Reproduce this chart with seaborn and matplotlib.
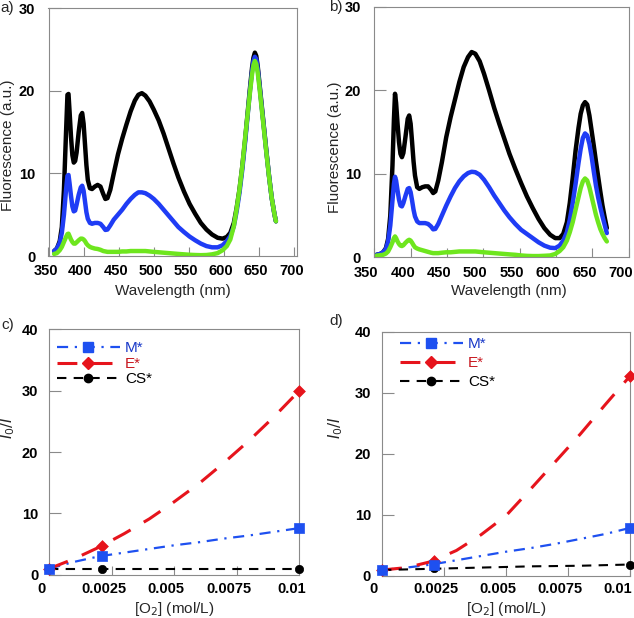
import numpy as np
import pandas as pd
import matplotlib
matplotlib.use("Agg")
import matplotlib.pyplot as plt
import seaborn as sns
from matplotlib.lines import Line2D
from matplotlib.transforms import ScaledTranslation

# ---------------- data: panel a ----------------
wl_a = [358, 362, 366, 369, 372, 375, 377, 378.5, 380, 382, 384, 386, 388, 390, 393, 396, 398, 400,
        402, 404, 406, 409, 412, 416, 420, 424, 428, 431, 434, 438, 443, 449, 455, 461, 467, 473,
        478, 483, 488, 494, 500, 507, 514, 521, 528, 535, 543, 551, 559, 567, 575, 583, 591, 598,
        604, 609, 614, 618, 622, 626, 630, 634, 637, 640, 642, 644, 646, 648, 651, 654, 657, 660,
        664, 668, 672, 674]
black_a = [0.6, 0.9, 1.8, 3.5, 8.0, 15.0, 19.5, 19.6, 17.5, 14.5, 12.2, 11.3, 11.5, 12.5, 15.0, 17.0, 17.3, 16.0,
           13.5, 11.0, 9.2, 8.2, 8.1, 8.4, 8.6, 8.4, 7.5, 6.9, 7.0, 8.0, 10.0, 12.3, 14.2, 15.9, 17.5, 18.8,
           19.5, 19.7, 19.4, 18.7, 17.7, 16.4, 14.8, 13.0, 11.2, 9.5, 7.8, 6.3, 5.1, 4.0, 3.2, 2.6, 2.2, 2.1,
           2.3, 2.8, 4.0, 5.8, 8.0, 10.8, 14.0, 17.6, 20.3, 22.8, 24.0, 24.6, 24.2, 23.0, 20.5, 18.0, 15.5, 13.0,
           9.8, 7.0, 5.0, 4.2]
blue_a = [0.6, 0.9, 1.6, 2.8, 5.0, 8.0, 9.7, 9.8, 8.8, 7.3, 6.0, 5.4, 5.5, 6.2, 7.4, 8.3, 8.5, 7.9,
          6.6, 5.3, 4.5, 4.0, 3.9, 4.0, 4.0, 3.9, 3.5, 3.15, 3.2, 3.7, 4.4, 5.0, 5.6, 6.3, 6.9, 7.4,
          7.7, 7.7, 7.6, 7.3, 6.9, 6.3, 5.6, 4.9, 4.2, 3.5, 2.9, 2.35, 1.9, 1.5, 1.2, 1.05, 1.05, 1.3,
          1.8, 2.4, 3.6, 5.4, 7.6, 10.4, 13.7, 17.3, 20.0, 22.4, 23.6, 24.1, 23.8, 22.7, 20.3, 17.8, 15.4, 12.9,
          9.8, 7.0, 5.0, 4.2]
green_a = [0.25, 0.35, 0.7, 1.1, 1.7, 2.3, 2.65, 2.7, 2.4, 2.0, 1.7, 1.5, 1.5, 1.65, 1.9, 2.1, 2.1, 2.0,
           1.8, 1.5, 1.3, 1.1, 1.0, 0.9, 0.85, 0.75, 0.6, 0.55, 0.5, 0.5, 0.5, 0.5, 0.55, 0.55, 0.6, 0.6,
           0.6, 0.6, 0.6, 0.55, 0.5, 0.45, 0.4, 0.35, 0.3, 0.25, 0.2, 0.15, 0.12, 0.1, 0.12, 0.2, 0.35, 0.7,
           1.2, 2.0, 3.6, 5.7, 8.0, 10.8, 14.2, 17.4, 19.8, 22.0, 23.1, 23.6, 23.2, 22.2, 20.0, 17.6, 15.2, 12.8,
           9.7, 7.0, 5.0, 4.2]

# ---------------- data: panel b ----------------
wl_b = [353, 358, 362, 366, 369, 372, 375, 377, 378.5, 380, 382, 384, 386, 388, 390, 393, 396, 398,
        400, 402, 404, 406, 409, 412, 416, 420, 424, 428, 431, 434, 438, 443, 449, 455, 461, 467,
        473, 479, 484, 489, 495, 501, 508, 515, 522, 529, 536, 544, 552, 560, 568, 576, 584, 592,
        599, 605, 610, 615, 619, 623, 627, 631, 634, 637, 640, 643, 646, 649, 652, 655, 658, 661,
        664, 667, 670]
black_b = [0.3, 0.4, 0.6, 1.1, 2.2, 5.0, 11.0, 16.5, 19.6, 18.5, 16.0, 13.8, 12.4, 12.0, 12.5, 14.5, 16.6, 17.0,
           16.0, 13.8, 11.5, 9.8, 8.4, 8.2, 8.4, 8.5, 8.5, 8.1, 7.7, 7.9, 9.2, 11.4, 14.4, 16.8, 18.9, 21.0,
           22.8, 24.0, 24.6, 24.4, 23.5, 22.0, 20.0, 17.9, 16.0, 14.2, 12.4, 10.6, 8.9, 7.3, 5.9, 4.6, 3.5, 2.7,
           2.3, 2.3, 2.8, 4.2, 6.5, 9.5, 12.8, 15.5, 17.2, 18.2, 18.6, 18.3, 17.0, 15.2, 13.4, 11.5, 9.7, 7.9,
           6.2, 4.8, 3.5]
blue_b = [0.3, 0.4, 0.6, 1.0, 1.9, 3.8, 6.8, 8.8, 9.65, 9.2, 8.0, 6.9, 6.2, 6.1, 6.5, 7.4, 8.2, 8.3,
          7.8, 6.8, 5.7, 4.9, 4.3, 4.1, 4.1, 4.1, 4.0, 3.7, 3.35, 3.4, 4.0, 5.0, 6.2, 7.3, 8.3, 9.1,
          9.7, 10.1, 10.25, 10.2, 9.9, 9.3, 8.4, 7.4, 6.5, 5.6, 4.8, 4.0, 3.3, 2.8, 2.3, 1.8, 1.4, 1.15,
          1.1, 1.4, 2.0, 3.0, 4.5, 6.5, 8.8, 11.3, 13.0, 14.3, 14.85, 14.6, 13.6, 12.1, 10.3, 8.6, 7.2, 6.0,
          4.9, 3.9, 2.9]
green_b = [0.2, 0.25, 0.3, 0.45, 0.7, 1.2, 1.8, 2.3, 2.5, 2.3, 1.9, 1.6, 1.4, 1.35, 1.45, 1.75, 2.0, 2.1,
           2.0, 1.75, 1.45, 1.2, 1.05, 0.95, 0.85, 0.75, 0.65, 0.55, 0.5, 0.5, 0.5, 0.55, 0.6, 0.6, 0.65, 0.7,
           0.7, 0.7, 0.7, 0.7, 0.65, 0.6, 0.55, 0.5, 0.45, 0.4, 0.35, 0.3, 0.22, 0.17, 0.15, 0.15, 0.18, 0.22,
           0.4, 0.75, 1.2, 2.0, 3.0, 4.2, 5.7, 7.2, 8.3, 9.1, 9.45, 9.2, 8.4, 7.3, 6.2, 5.1, 4.2, 3.4,
           2.8, 2.3, 1.9]

# ---------------- data: panels c, d (Stern-Volmer) ----------------
o2_pts = [0.0, 0.0021, 0.01]
M_c = [1.0, 3.1, 7.6]
E_c = [1.0, 4.7, 30.0]
CS_c = [1.0, 1.0, 1.0]
M_d = [0.9, 1.8, 7.8]
E_d = [0.9, 2.4, 32.7]
CS_d = [0.9, 1.2, 1.8]

# fitted curves
o2_fit = [0.0, 0.001, 0.002, 0.003, 0.004, 0.005, 0.006, 0.007, 0.008, 0.009, 0.01]
E_c_fit = [1.0, 2.6, 4.5, 6.7, 9.1, 11.9, 14.9, 18.3, 21.9, 25.8, 30.0]
M_c_fit = [1.0, 2.1, 3.0, 3.6, 4.2, 4.8, 5.3, 5.9, 6.4, 7.0, 7.6]
CS_c_fit = [1.0, 1.0, 1.0, 1.0, 1.0, 1.0, 1.0, 1.0, 1.0, 1.0, 1.0]
E_d_fit = [0.9, 1.3, 2.3, 4.1, 6.7, 9.8, 14.2, 18.7, 23.2, 28.0, 32.7]
M_d_fit = [0.9, 1.3, 1.8, 2.5, 3.2, 3.9, 4.5, 5.2, 6.0, 6.8, 7.8]
CS_d_fit = [0.9, 1.0, 1.1, 1.2, 1.3, 1.4, 1.5, 1.55, 1.6, 1.7, 1.8]

series_names = ["M*", "E*", "CS*"]
wl_ticks = [350, 400, 450, 500, 550, 600, 650, 700]
fl_ticks = [0, 10, 20, 30]
o2_ticks = [0, 0.0025, 0.005, 0.0075, 0.01]
o2_ticklabels = ["0", "0.0025", "0.005", "0.0075", "0.01"]
sv_ticks = [0, 10, 20, 30, 40]

# ---------------- style ----------------
sns.set_theme(style="white")
plt.rcParams["font.family"] = ["Liberation Sans", "DejaVu Sans"]

C_BLACK = "#000000"
C_BLUE = "#1f3cf5"
C_GREEN = "#6ee61e"
C_RED = "#e6141c"
C_MBLUE = "#1e50f0"
SPINE = "#8a8a8a"

W, H = 634, 618
fig = plt.figure(figsize=(W / 100, H / 100), dpi=100)


def rect(l, r, t, b):
    return [l / W, 1 - b / H, (r - l) / W, (b - t) / H]


axA = fig.add_axes(rect(48.5, 297, 8, 256))
axB = fig.add_axes(rect(374.3, 629, 7, 257.3))
axC = fig.add_axes(rect(49.3, 299.3, 329.4, 574.7))
axD = fig.add_axes(rect(382, 630, 331.5, 575.5))


def style(ax, xshift, xpad, ypad, last_extra=0):
    for s in ax.spines.values():
        s.set_color(SPINE)
        s.set_linewidth(0.8)
        s.set_visible(True)
    ax.tick_params(axis="both", direction="in", color=SPINE, width=0.8,
                   top=False, right=False, bottom=True, left=True,
                   labelsize=10.5, labelcolor="black")
    ax.tick_params(axis="x", length=6.5, pad=xpad)
    ax.tick_params(axis="y", length=8.5, pad=ypad)
    for lab in ax.get_xticklabels() + ax.get_yticklabels():
        lab.set_fontweight("bold")
    labs = ax.get_xticklabels()
    for i, lab in enumerate(labs):
        dx = xshift + (last_extra if i == len(labs) - 1 else 0)
        off = ScaledTranslation(dx / 100, 0, fig.dpi_scale_trans)
        lab.set_transform(lab.get_transform() + off)
    ax.grid(False)
    ax.set_facecolor("white")


# ---------------- spectra ----------------
def spectra(ax, wl, curves, xlim, xshift, ylabx, ylaby, xlabx, xlaby):
    for vals, col in curves:
        df = pd.DataFrame({"wl": wl, "fl": vals})
        sns.lineplot(data=df, x="wl", y="fl", ax=ax, color=col, lw=3.2,
                     errorbar=None, solid_capstyle="round", solid_joinstyle="round")
    ax.set_xlim(*xlim)
    ax.set_ylim(0, 30)
    ax.set_xticks(wl_ticks)
    ax.set_yticks(fl_ticks)
    ax.set_xlabel("Wavelength (nm)", fontsize=11, va="center")
    ax.set_ylabel("Fluorescence (a.u.)", fontsize=11, va="center", ha="center")
    ax.xaxis.set_label_coords(xlabx, xlaby)
    ax.yaxis.set_label_coords(ylabx, ylaby)
    style(ax, xshift, 6.0, 9.5)


spectra(axA, wl_a, [(black_a, C_BLACK), (blue_a, C_BLUE), (green_a, C_GREEN)],
        (350, 704), -3, -0.163, 0.448, 0.5, -0.141)
spectra(axB, wl_b, [(black_b, C_BLACK), (blue_b, C_BLUE), (green_b, C_GREEN)],
        (350, 700.5), -8, -0.156, 0.44, 0.527, -0.135)


# ---------------- Stern-Volmer ----------------
line_styles = {
    "M*": dict(color=C_MBLUE, lw=1.6, ls=(0, (5, 3, 1, 3)), marker="s", ms=6.5),
    "E*": dict(color=C_RED, lw=2.2, ls=(0, (6.5, 5)), marker="D", ms=6.0),
    "CS*": dict(color=C_BLACK, lw=1.5, ls=(0, (4.5, 3.5)), marker="o", ms=6.0),
}
text_colors = {"M*": "#1838c8", "E*": "#c81820", "CS*": "black"}


def stern(ax, pts, fits, xshift, last_extra, ylabx, ylaby, xlaby, leg_anchor, leg_spacing):
    for name, yp, yf in zip(series_names, pts, fits):
        st = line_styles[name]
        dff = pd.DataFrame({"o2": o2_fit, "r": yf})
        sns.lineplot(data=dff, x="o2", y="r", ax=ax, color=st["color"], lw=st["lw"],
                     linestyle=st["ls"], errorbar=None)
    for name, yp in zip(series_names[::-1], pts[::-1]):
        st = line_styles[name]
        dfp = pd.DataFrame({"o2": o2_pts, "r": yp})
        sns.scatterplot(data=dfp, x="o2", y="r", ax=ax, color=st["color"], marker=st["marker"],
                        s=st["ms"] ** 2, edgecolor=st["color"], linewidth=0.5, clip_on=False,
                        zorder=5)
    ax.set_xlim(0, 0.01)
    ax.set_ylim(0, 40)
    ax.set_xticks(o2_ticks)
    ax.set_xticklabels(o2_ticklabels)
    ax.set_yticks(sv_ticks)
    ax.set_xlabel("[O$_2$] (mol/L)", fontsize=11, va="center")
    ax.set_ylabel("$I_0/I$", fontsize=11, va="center", ha="center")
    ax.xaxis.set_label_coords(0.5, xlaby)
    ax.yaxis.set_label_coords(ylabx, ylaby)
    style(ax, xshift, 5.0, 8.0, last_extra)
    handles = []
    for name in series_names:
        st = line_styles[name]
        handles.append(Line2D([], [], color=st["color"], lw=st["lw"], ls=st["ls"],
                              marker=st["marker"], ms=st["ms"], mfc=st["color"],
                              mec=st["color"]))
    leg = ax.legend(handles, series_names, loc="upper left", bbox_to_anchor=leg_anchor,
                    frameon=False, fontsize=11, handlelength=4.1, handletextpad=0.35,
                    borderpad=0, borderaxespad=0, labelspacing=leg_spacing, numpoints=1)
    for t, name in zip(leg.get_texts(), series_names):
        t.set_color(text_colors[name])


stern(axC, [M_c, E_c, CS_c], [M_c_fit, E_c_fit, CS_c_fit], -8, 0,
      -0.165, 0.598, -0.14, (0.031, 0.951), 0.1)
stern(axD, [M_d, E_d, CS_d], [M_d_fit, E_d_fit, CS_d_fit], -8, -4,
      -0.185, 0.605, -0.137, (0.073, 0.976), 0.33)

# panel letters
for txt, x, y in [("a)", 7.5, 8), ("b)", 336, 7), ("c)", 7.5, 325), ("d)", 336, 321)]:
    fig.text(x / W, 1 - y / H, txt, ha="center", va="center", fontsize=11)

fig.savefig("out.png", dpi=100)
